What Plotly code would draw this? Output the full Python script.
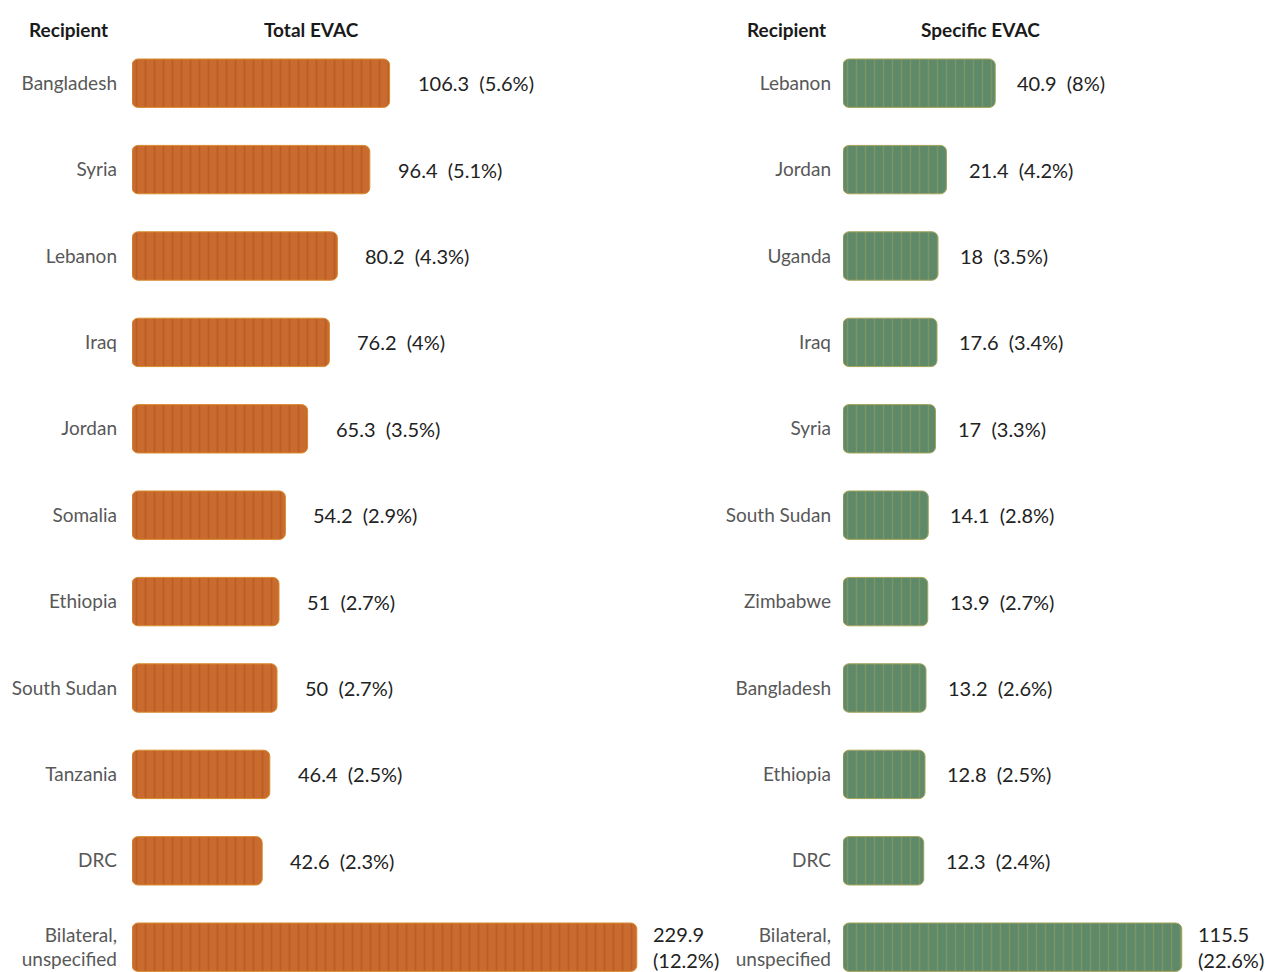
import plotly.graph_objects as go
from plotly.subplots import make_subplots

# ---- data ----
left_labels = ["Bangladesh", "Syria", "Lebanon", "Iraq", "Jordan", "Somalia",
               "Ethiopia", "South Sudan", "Tanzania", "DRC", "Bilateral,<br>unspecified"]
left_values = [106.3, 96.4, 80.2, 76.2, 65.3, 54.2, 51, 50, 46.4, 42.6, 229.9]
left_pct = [5.6, 5.1, 4.3, 4, 3.5, 2.9, 2.7, 2.7, 2.5, 2.3, 12.2]

right_labels = ["Lebanon", "Jordan", "Uganda", "Iraq", "Syria", "South Sudan",
                "Zimbabwe", "Bangladesh", "Ethiopia", "DRC", "Bilateral,<br>unspecified"]
right_values = [40.9, 21.4, 18, 17.6, 17, 14.1, 13.9, 13.2, 12.8, 12.3, 115.5]
right_pct = [8, 4.2, 3.5, 3.4, 3.3, 2.8, 2.7, 2.6, 2.5, 2.4, 22.6]

# ---- style ----
FONT = "Lato"
W, H = 1266, 972
TOP = 40
LEFT_X0 = 132
RIGHT_X0 = 843
L_SCALE = 2.0   # px per unit
R_SCALE = 2.5
L_BASE = -22.5  # coin-stack start offset
R_BASE = -20.0

ORANGE = "#C96A2E"
ORANGE_EDGE = "#AE521B"
ORANGE_LINE = "#D88A2C"
GREEN = "#5F8A69"
GREEN_EDGE = "#9EA059"
GREEN_LINE = "#A3A35A"

fig = make_subplots(rows=1, cols=2, horizontal_spacing=0.05)

n = len(left_labels)
ypos = list(range(n))

fig.add_trace(go.Bar(
    y=ypos, x=[v - L_BASE for v in left_values], base=L_BASE, orientation="h",
    width=0.56,
    marker=dict(color=ORANGE, cornerradius=6,
                line=dict(color=ORANGE_LINE, width=1),
                pattern=dict(shape="|", fgcolor=ORANGE_EDGE, bgcolor=ORANGE,
                             size=9, solidity=0.2, fillmode="overlay")),
    hoverinfo="skip", showlegend=False), row=1, col=1)

fig.add_trace(go.Bar(
    y=ypos, x=[v - R_BASE for v in right_values], base=R_BASE, orientation="h",
    width=0.56,
    marker=dict(color=GREEN, cornerradius=6,
                line=dict(color=GREEN_LINE, width=1),
                pattern=dict(shape="|", fgcolor=GREEN_EDGE, bgcolor=GREEN,
                             size=9, solidity=0.15, fillmode="overlay")),
    hoverinfo="skip", showlegend=False), row=1, col=2)

plot_h = H - TOP
span = plot_h / 86.4
yrange = [-0.5 + span, -0.5]

l_dom0 = LEFT_X0 / W
l_dom1 = 700 / W
r_dom0 = RIGHT_X0 / W
r_dom1 = 1.0
l_range = [L_BASE, L_BASE + (l_dom1 - l_dom0) * W / L_SCALE]
r_range = [R_BASE, R_BASE + (r_dom1 - r_dom0) * W / R_SCALE]

fig.update_xaxes(visible=False, showgrid=False, zeroline=False)
fig.layout.xaxis.update(domain=[l_dom0, l_dom1], range=l_range)
fig.layout.xaxis2.update(domain=[r_dom0, r_dom1], range=r_range)

tickfont = dict(family=FONT, size=19, color="#585858")
fig.layout.yaxis.update(range=yrange, tickvals=ypos, ticktext=left_labels,
                        showgrid=False, zeroline=False, showline=False,
                        ticks="", tickfont=tickfont, ticklabelstandoff=14)
fig.layout.yaxis2.update(range=yrange, tickvals=ypos, ticktext=right_labels,
                         showgrid=False, zeroline=False, showline=False,
                         ticks="", tickfont=tickfont, ticklabelstandoff=11)


def fmt(v):
    return f"{v:g}"


annotations = []
valfont = dict(family=FONT, size=20, color="#222222")
for i, (v, p) in enumerate(zip(left_values, left_pct)):
    if "<br>" in left_labels[i]:
        txt = f"{fmt(v)}<br>({fmt(p)}%)"
        shift = 14
    else:
        txt = f"{fmt(v)}&nbsp;&nbsp;({fmt(p)}%)"
        shift = 26
    annotations.append(dict(x=v, y=i, xref="x", yref="y", text=txt,
                            xanchor="left", yanchor="middle", xshift=shift,
                            showarrow=False, align="left", font=valfont))
for i, (v, p) in enumerate(zip(right_values, right_pct)):
    if "<br>" in right_labels[i]:
        txt = f"{fmt(v)}<br>({fmt(p)}%)"
        shift = 14
    else:
        txt = f"{fmt(v)}&nbsp;&nbsp;({fmt(p)}%)"
        shift = 20
    annotations.append(dict(x=v, y=i, xref="x2", yref="y2", text=txt,
                            xanchor="left", yanchor="middle", xshift=shift,
                            showarrow=False, align="left", font=valfont))

headfont = dict(family=FONT, size=19, color="#1a1a1a", weight="bold")
for txt, xpx in [("Recipient", 68), ("Total EVAC", 311),
                 ("Recipient", 786), ("Specific EVAC", 981)]:
    annotations.append(dict(x=xpx / W, y=1, xref="paper", yref="paper",
                            yshift=11, text=txt, xanchor="center",
                            yanchor="middle", showarrow=False, font=headfont))

fig.update_layout(
    width=W, height=H,
    margin=dict(l=0, r=0, t=TOP, b=0),
    paper_bgcolor="white", plot_bgcolor="white",
    annotations=annotations,
    bargap=0.3,
    font=dict(family=FONT),
)

fig.write_html("out.html",
               config={"displayModeBar": False},
               post_script="document.body.style.margin='0';"
                           "document.body.style.overflow='hidden';")
